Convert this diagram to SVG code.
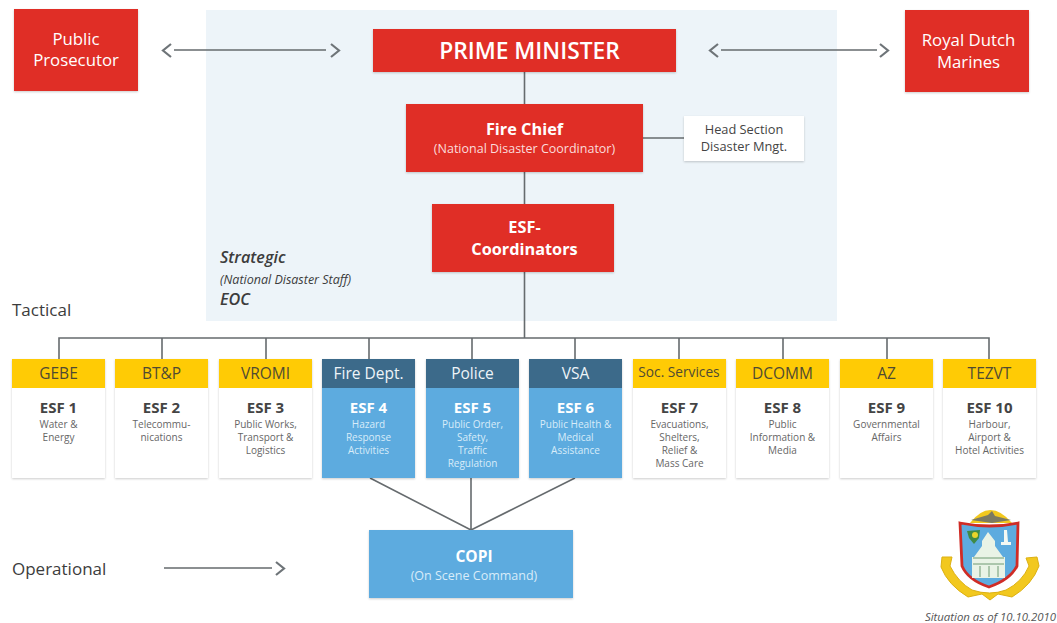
<svg xmlns="http://www.w3.org/2000/svg" width="1057" height="623" viewBox="0 0 1057 623">
<defs>
<filter id="sh" x="-10%" y="-10%" width="120%" height="120%"><feDropShadow dx="0" dy="1" stdDeviation="1.2" flood-color="#000" flood-opacity="0.2"/></filter>
</defs>
<style>
text{font-family:"Open Sans","Noto Sans","Liberation Sans",sans-serif;text-anchor:middle}
.red{fill:#e02d27;filter:url(#sh)}
.w{fill:#fff}
.card{fill:#fff;filter:url(#sh)}
.bluecard{fill:#5dabdf;filter:url(#sh)}
.y{fill:#ffcb05}
.d{fill:#3c6a8a}
.hd{font-size:15.5px;font-weight:500;fill:#4f4a33}
.hdw{font-size:15.5px;font-weight:500;fill:#eef4f8}
.esf{font-size:15px;font-weight:700;fill:#444}
.esfw{font-size:15px;font-weight:700;fill:#fff}
.s{font-size:10px;fill:#666}
.sw{font-size:10px;fill:#d8ecf9}
.line{fill:none;stroke:#666b6e;stroke-width:1.6}
.chev{fill:none;stroke:#6e7478;stroke-width:2.2}
.lab{font-size:17px;fill:#3c3c3c;text-anchor:start}
.it{font-style:italic;fill:#3c3c3c;text-anchor:start}
.title{font-size:16.8px;font-weight:500;fill:#fff}
.boldw{font-size:16.3px;font-weight:700;fill:#fff}
</style>
<rect x="206" y="10" width="631" height="311" fill="#edf4f9"/>
<g id="connectors">
<path class="line" d="M524.500 72V104M524.500 172V204M524.500 272V338M642 138H684"/>
<path class="line" d="M59 359V338H989V359M162 338V359M266 338V359M369 338V359M472 338V359M575 338V359M679 338V359M783 338V359M887 338V359"/>
<path class="line" d="M370 478L471 530M471 478V530M575 478L471 530"/>
<path class="line" d="M174 50H326M721 50H877M164 568H272"/>
<path class="chev" d="M171 44L163 50.500L171 57M331 44L339 50.500L331 57M718 44L710 50.500L718 57M880 44L888 50.500L880 57M276 562L284 568.500L276 575"/>
</g>
<g id="public-prosecutor"><rect class="red" x="14" y="9" width="124" height="82"/><text class="title" x="76" y="45">Public</text><text class="title" x="76" y="66">Prosecutor</text></g>
<g id="prime-minister"><rect class="red" x="373" y="29" width="303" height="43"/><text x="529.500" y="59" font-size="22.800" font-weight="600" fill="#fff">PRIME MINISTER</text></g>
<g id="royal-dutch-marines"><rect class="red" x="905" y="10" width="124" height="82"/><text class="title" x="968.500" y="46">Royal Dutch</text><text class="title" x="968.500" y="68">Marines</text></g>
<g id="fire-chief"><rect class="red" x="406" y="104" width="237" height="68"/><text class="boldw" x="524.500" y="135">Fire Chief</text><text x="524.500" y="153" font-size="12.500" fill="#fbdcdb">(National Disaster Coordinator)</text></g>
<g id="head-section"><rect class="w" x="684" y="116" width="120" height="45" filter="url(#sh)"/><text x="744" y="134" font-size="12.800" fill="#444">Head Section</text><text x="744" y="151" font-size="12.800" fill="#444">Disaster Mngt.</text></g>
<g id="esf-coordinators"><rect class="red" x="432" y="204" width="182" height="68"/><text class="boldw" x="524.500" y="233">ESF-</text><text class="boldw" x="524.500" y="255">Coordinators</text></g>
<g id="strategic-label"><text class="it" x="220" y="263" font-size="16.200" font-weight="600">Strategic</text><text class="it" x="220" y="284" font-size="12.500">(National Disaster Staff)</text><text class="it" x="220" y="305" font-size="16.200" font-weight="600">EOC</text></g>
<text class="lab" x="12" y="316">Tactical</text>
<text class="lab" x="12" y="575">Operational</text>
<g id="esf1"><rect class="card" x="12" y="359" width="93" height="119"/><rect class="y" x="12" y="359" width="93" height="29"/><text class="hd" x="58.500" y="379">GEBE</text><text class="esf" x="58.500" y="413">ESF 1</text><text class="s" x="58.500" y="428">Water &amp;</text><text class="s" x="58.500" y="441">Energy</text></g>
<g id="esf2"><rect class="card" x="115" y="359" width="93" height="119"/><rect class="y" x="115" y="359" width="93" height="29"/><text class="hd" x="161.500" y="379">BT&amp;P</text><text class="esf" x="161.500" y="413">ESF 2</text><text class="s" x="161.500" y="428">Telecommu-</text><text class="s" x="161.500" y="441">nications</text></g>
<g id="esf3"><rect class="card" x="219" y="359" width="93" height="119"/><rect class="y" x="219" y="359" width="93" height="29"/><text class="hd" x="265.500" y="379">VROMI</text><text class="esf" x="265.500" y="413">ESF 3</text><text class="s" x="265.500" y="428">Public Works,</text><text class="s" x="265.500" y="441">Transport &amp;</text><text class="s" x="265.500" y="454">Logistics</text></g>
<g id="esf4"><rect class="bluecard" x="322" y="359" width="93" height="119"/><rect class="d" x="322" y="359" width="93" height="29"/><text class="hdw" x="368.500" y="379">Fire Dept.</text><text class="esfw" x="368.500" y="413">ESF 4</text><text class="sw" x="368.500" y="428">Hazard</text><text class="sw" x="368.500" y="441">Response</text><text class="sw" x="368.500" y="454">Activities</text></g>
<g id="esf5"><rect class="bluecard" x="426" y="359" width="93" height="119"/><rect class="d" x="426" y="359" width="93" height="29"/><text class="hdw" x="472.500" y="379">Police</text><text class="esfw" x="472.500" y="413">ESF 5</text><text class="sw" x="472.500" y="428">Public Order,</text><text class="sw" x="472.500" y="441">Safety,</text><text class="sw" x="472.500" y="454">Traffic</text><text class="sw" x="472.500" y="467">Regulation</text></g>
<g id="esf6"><rect class="bluecard" x="529" y="359" width="93" height="119"/><rect class="d" x="529" y="359" width="93" height="29"/><text class="hdw" x="575.500" y="379">VSA</text><text class="esfw" x="575.500" y="413">ESF 6</text><text class="sw" x="575.500" y="428">Public Health &amp;</text><text class="sw" x="575.500" y="441">Medical</text><text class="sw" x="575.500" y="454">Assistance</text></g>
<g id="esf7"><rect class="card" x="633" y="359" width="93" height="119"/><rect class="y" x="633" y="359" width="93" height="29"/><text class="hd" x="679" y="377" style="font-size:13.700px">Soc. Services</text><text class="esf" x="679.500" y="413">ESF 7</text><text class="s" x="679.500" y="428">Evacuations,</text><text class="s" x="679.500" y="441">Shelters,</text><text class="s" x="679.500" y="454">Relief &amp;</text><text class="s" x="679.500" y="467">Mass Care</text></g>
<g id="esf8"><rect class="card" x="736" y="359" width="93" height="119"/><rect class="y" x="736" y="359" width="93" height="29"/><text class="hd" x="782.500" y="379">DCOMM</text><text class="esf" x="782.500" y="413">ESF 8</text><text class="s" x="782.500" y="428">Public</text><text class="s" x="782.500" y="441">Information &amp;</text><text class="s" x="782.500" y="454">Media</text></g>
<g id="esf9"><rect class="card" x="840" y="359" width="93" height="119"/><rect class="y" x="840" y="359" width="93" height="29"/><text class="hd" x="886.500" y="379">AZ</text><text class="esf" x="886.500" y="413">ESF 9</text><text class="s" x="886.500" y="428">Governmental</text><text class="s" x="886.500" y="441">Affairs</text></g>
<g id="esf10"><rect class="card" x="943" y="359" width="93" height="119"/><rect class="y" x="943" y="359" width="93" height="29"/><text class="hd" x="989.500" y="379">TEZVT</text><text class="esf" x="989.500" y="413">ESF 10</text><text class="s" x="989.500" y="428">Harbour,</text><text class="s" x="989.500" y="441">Airport &amp;</text><text class="s" x="989.500" y="454">Hotel Activities</text></g>
<g id="copi"><rect class="bluecard" x="369" y="530" width="204" height="68"/><text x="474" y="562" font-size="15.500" font-weight="700" fill="#fff">COPI</text><text x="474" y="580" font-size="12.500" fill="#d8ecf9">(On Scene Command)</text></g>
<g id="crest">
<path d="M970 523Q990 497 1012 523Z" fill="#f2c81e"/>
<path d="M971 520L988 515L992 511L995 516L1011 520L992 523Z" fill="#7c7a62"/>
<path d="M942 557H952L950 566Q958 582 972 590Q990 596 1006 590Q1022 582 1029 566L1026 558L1037 557L1039 566Q1032 585 1012 597L998 594L990 600L982 594L968 597Q948 585 941 567Z" fill="#f2c81e" stroke="#dcb013" stroke-width="1"/>
<path d="M960 523Q990 529 1018 523L1017 566Q1010 580 989 587Q968 580 962 566Z" fill="#5dabdf" stroke="#cf2c26" stroke-width="2.800"/>
<path d="M967 531L980 530L979 538L974 544L969 538Z" fill="#3f8a46"/><circle cx="975" cy="535" r="3" fill="#e8d42a"/>
<path d="M1004 530h3l1 12h3v3h-10v-3h3Z" fill="#f3f8f3"/>
<path d="M988 532L995 541V546L1003 557H1005V578H972V557H974L982 546V541Z" fill="#e9f3e6"/>
<path d="M973 558H1004M973 564H1004M980 566v11M989 566v11M998 566v11" stroke="#6f9a72" stroke-width="1" fill="none"/>
</g>
<text class="it" x="1056" y="621" font-size="11.400" style="text-anchor:end;fill:#555">Situation as of 10.10.2010</text>
</svg>
